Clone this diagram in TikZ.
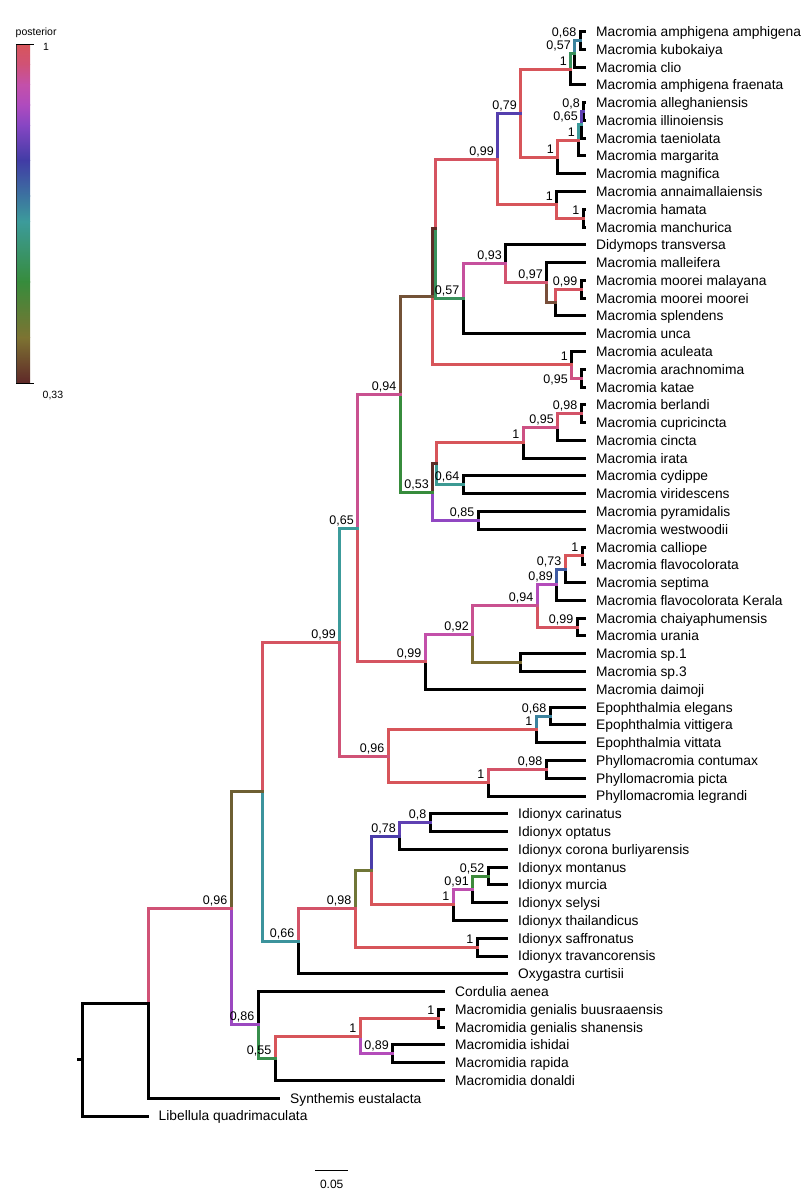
\documentclass[tikz,border=0pt]{standalone}
\usepackage{fontspec}
\setmainfont{Liberation Sans}
\usepackage{tikz}
\usetikzlibrary{positioning}

% branch colours (posterior)
\definecolor{p100}{RGB}{215,85,90}
\definecolor{p99}{RGB}{213,84,97}
\definecolor{p98}{RGB}{211,83,104}
\definecolor{p97}{RGB}{210,83,111}
\definecolor{p96}{RGB}{208,82,118}
\definecolor{p95}{RGB}{205,81,131}
\definecolor{p94}{RGB}{201,81,144}
\definecolor{p93}{RGB}{198,80,157}
\definecolor{p92}{RGB}{195,80,170}
\definecolor{p91}{RGB}{190,79,175}
\definecolor{p89}{RGB}{180,76,186}
\definecolor{p86}{RGB}{155,72,192}
\definecolor{p85}{RGB}{145,71,194}
\definecolor{p80}{RGB}{95,64,178}
\definecolor{p79}{RGB}{85,63,174}
\definecolor{p78}{RGB}{75,61,169}
\definecolor{p73}{RGB}{62,91,162}
\definecolor{p68}{RGB}{60,131,158}
\definecolor{p66}{RGB}{60,147,156}
\definecolor{p65}{RGB}{60,155,155}
\definecolor{p64}{RGB}{60,154,147}
\definecolor{p57}{RGB}{57,145,92}
\definecolor{p55}{RGB}{56,142,76}
\definecolor{p53}{RGB}{55,140,60}
\definecolor{p52}{RGB}{61,138,59}
\definecolor{pOlA}{RGB}{110,95,50}
\definecolor{pOlB}{RGB}{112,118,55}
\definecolor{pOlC}{RGB}{122,108,50}
\definecolor{pBrA}{RGB}{115,82,55}
\definecolor{pBrB}{RGB}{120,78,58}
\definecolor{pBrC}{RGB}{92,45,40}
% legend stops
\definecolor{lgA}{RGB}{175,75,190}
\definecolor{lgB}{RGB}{135,70,195}
\definecolor{lgC}{RGB}{65,60,165}
\definecolor{lgD}{RGB}{60,115,160}
\definecolor{lgE}{RGB}{125,115,50}
\definecolor{lgF}{RGB}{95,40,40}

\begin{document}
\begin{tikzpicture}[x=1pt, y=-1pt,
    br/.style={line width=3pt, line cap=rect},
    tipbr/.style={br, black},
    taxon/.style={inner sep=0pt, text height=9.9pt, text depth=0pt,
      font=\fontsize{13.8}{16}\selectfont},
    pp/.style={anchor=base east, inner sep=0pt, xshift=-3.5pt, yshift=4pt,
      font=\fontsize{12.5}{14}\selectfont},
    legtxt/.style={inner sep=0pt, font=\fontsize{10.5}{12}\selectfont}]
\useasboundingbox (0,0) rectangle (807,1200);

% legend
\foreach \ya/\yb/\ca/\cb in {44/64.5/p100/p96, 64.2/84.8/p96/p92,
    84.5/105/p92/lgA, 104.7/125.3/lgA/lgB, 125/160.7/lgB/lgC,
    160.4/196.1/lgC/lgD, 195.8/221.4/lgD/p65, 221.1/282.1/p65/p53,
    281.8/337.8/p53/lgE, 337.5/383/lgE/lgF}
  \shade[top color=\ca, bottom color=\cb] (16,\ya) rectangle (30,\yb);
\draw[line width=0.6pt, black!80] (16,44) -- (16,383);
\draw[line width=0.8pt] (16,44) -- (33.5,44);
\draw[line width=0.8pt] (16,383) -- (33.5,383);
\node[legtxt, anchor=base west] (legtitle) at (15.5,35.5) {posterior};
\node[legtxt, anchor=base west] (leghi) at (43,50) {1};
\node[legtxt, anchor=base west] (leglo) at (42.5,398.5) {0,33};

% scale bar
\coordinate (sb1) at (315,1170);
\coordinate (sb2) at (348,1170);
\draw[line width=0.8pt] (sb1) -- (sb2);
\node[inner sep=0pt, anchor=base, font=\fontsize{12}{14}\selectfont] (sblab)
  at (331.7,1188.3) {0.05};

\begin{scope}[y=-17.779pt, yshift=-13.721pt]
% internal nodes
\coordinate (a68) at (580,1.5);
\coordinate (a57) at (574.5,2.25);
\coordinate (a1) at (570.5,3.125);
\coordinate (b8) at (583.5,5.5);
\coordinate (b65) at (581.5,6.25);
\coordinate (b1) at (578.5,7.125);
\coordinate (b1b) at (557.5,8.0625);
\coordinate (a79) at (520.5,5.59375);
\coordinate (c1b) at (583,11.5);
\coordinate (c1) at (556.5,10.75);
\coordinate (a99) at (497.5,8.171875);
\coordinate (d99) at (581,15.5);
\coordinate (dBr) at (555.5,16.25);
\coordinate (d97) at (546.5,15.125);
\coordinate (d93) at (505.5,14.0625);
\coordinate (d57) at (463,16.03125);
\coordinate (nK) at (435,12.1015625);
\coordinate (ac95) at (581,20.5);
\coordinate (ac1) at (571.5,19.75);
\coordinate (nI) at (432.5,15.92578);
\coordinate (f98) at (581,22.5);
\coordinate (f95) at (557.5,23.25);
\coordinate (f1) at (523,24.125);
\coordinate (f64) at (463,26.5);
\coordinate (nL) at (436.5,25.3125);
\coordinate (f85) at (478,28.5);
\coordinate (nJ) at (432.5,26.90625);
\coordinate (nG) at (400,21.41602);
\coordinate (g1) at (582,30.5);
\coordinate (g73) at (565,31.25);
\coordinate (g89) at (556.5,32.125);
\coordinate (g99) at (577,34.5);
\coordinate (g94) at (537,33.3125);
\coordinate (gOl) at (520,36.5);
\coordinate (g92) at (472.5,34.90625);
\coordinate (nH) at (425,36.453125);
\coordinate (nE) at (357.5,28.93457);
\coordinate (h68) at (550,39.5);
\coordinate (h1) at (536,40.25);
\coordinate (i98) at (546,42.5);
\coordinate (i1) at (488,43.25);
\coordinate (nF) at (388,41.75);
\coordinate (nC) at (339.5,35.34229);
\coordinate (j8) at (430,45.5);
\coordinate (j78) at (399.5,46.25);
\coordinate (k52) at (488,48.5);
\coordinate (k91) at (472.5,49.25);
\coordinate (k1) at (453,50.125);
\coordinate (jOl) at (371.5,48.1875);
\coordinate (l1) at (477,52.5);
\coordinate (j98) at (355,50.34375);
\coordinate (nD) at (298,52.171875);
\coordinate (nB) at (262.5,43.75708);
\coordinate (m1b) at (438,56.5);
\coordinate (m89) at (392.5,58.5);
\coordinate (m1) at (360,57.5);
\coordinate (m55) at (275,58.75);
\coordinate (m86) at (258,56.875);
\coordinate (nA) at (231,50.31604);
\coordinate (nS) at (148,55.65802);
\coordinate (nR) at (82,58.82901);
\coordinate (r0) at (78,58.82901);

% tips
\foreach \i/\x/\p/\sp in {
  1/584.5/a68/Macromia amphigena amphigena,
  2/584.5/a68/Macromia kubokaiya,
  3/584.5/a57/Macromia clio,
  4/584.5/a1/Macromia amphigena fraenata,
  5/584.5/b8/Macromia alleghaniensis,
  6/584.5/b8/Macromia illinoiensis,
  7/584.5/b65/Macromia taeniolata,
  8/584.5/b1/Macromia margarita,
  9/584.5/b1b/Macromia magnifica,
  10/584.5/c1/Macromia annaimallaiensis,
  11/584.5/c1b/Macromia hamata,
  12/584.5/c1b/Macromia manchurica,
  13/584.5/d93/Didymops transversa,
  14/584.5/d97/Macromia malleifera,
  15/584.5/d99/Macromia moorei malayana,
  16/584.5/d99/Macromia moorei moorei,
  17/584.5/dBr/Macromia splendens,
  18/584.5/d57/Macromia unca,
  19/584.5/ac1/Macromia aculeata,
  20/584.5/ac95/Macromia arachnomima,
  21/584.5/ac95/Macromia katae,
  22/584.5/f98/Macromia berlandi,
  23/584.5/f98/Macromia cupricincta,
  24/584.5/f95/Macromia cincta,
  25/584.5/f1/Macromia irata,
  26/584.5/f64/Macromia cydippe,
  27/584.5/f64/Macromia viridescens,
  28/584.5/f85/Macromia pyramidalis,
  29/584.5/f85/Macromia westwoodii,
  30/584.5/g1/Macromia calliope,
  31/584.5/g1/Macromia flavocolorata,
  32/584.5/g73/Macromia septima,
  33/584.5/g89/Macromia flavocolorata Kerala,
  34/584.5/g99/Macromia chaiyaphumensis,
  35/584.5/g99/Macromia urania,
  36/584.5/gOl/Macromia sp.1,
  37/584.5/gOl/Macromia sp.3,
  38/584.5/nH/Macromia daimoji,
  39/584.5/h68/Epophthalmia elegans,
  40/584.5/h68/Epophthalmia vittigera,
  41/584.5/h1/Epophthalmia vittata,
  42/584.5/i98/Phyllomacromia contumax,
  43/584.5/i98/Phyllomacromia picta,
  44/584.5/i1/Phyllomacromia legrandi,
  45/506.5/j8/Idionyx carinatus,
  46/506.5/j8/Idionyx optatus,
  47/506.5/j78/Idionyx corona burliyarensis,
  48/506.5/k52/Idionyx montanus,
  49/506.5/k52/Idionyx murcia,
  50/506.5/k91/Idionyx selysi,
  51/506.5/k1/Idionyx thailandicus,
  52/506.5/l1/Idionyx saffronatus,
  53/506.5/l1/Idionyx travancorensis,
  54/506.5/nD/Oxygastra curtisii,
  55/443.5/m86/Cordulia aenea,
  56/443.5/m1b/Macromidia genialis buusraaensis,
  57/443.5/m1b/Macromidia genialis shanensis,
  58/443.5/m89/Macromidia ishidai,
  59/443.5/m89/Macromidia rapida,
  60/443.5/m55/Macromidia donaldi,
  61/278.5/nS/Synthemis eustalacta,
  62/147/nR/Libellula quadrimaculata}{
  \coordinate (e\i) at (\x,\i);
  \draw[tipbr] (\p) |- (e\i);
  \node[taxon, right=11.5pt of e\i] (t\i) {\sp};
}

% internal branches, coloured by posterior
\draw[br, p68] (a57) |- (a68);
\draw[br, p57] (a1) |- (a57);
\draw[br, p100] (a79) |- (a1);
\draw[br, p80] (b65) |- (b8);
\draw[br, p65] (b1) |- (b65);
\draw[br, p100] (b1b) |- (b1);
\draw[br, p100] (a79) |- (b1b);
\draw[br, p79] (a99) |- (a79);
\draw[br, p100] (c1) |- (c1b);
\draw[br, p100] (a99) |- (c1);
\draw[br, p99] (nK) |- (a99);
\draw[br, p99] (dBr) |- (d99);
\draw[br, pBrB] (d97) |- (dBr);
\draw[br, p97] (d93) |- (d97);
\draw[br, p93] (d57) |- (d93);
\draw[br, p57] (nK) |- (d57);
\draw[br, p95] (ac1) |- (ac95);
\draw[br, p100] (nI) |- (ac1);
\draw[br, pBrC] (nI) |- (nK);
\draw[br, pBrA] (nG) |- (nI);
\draw[br, p98] (f95) |- (f98);
\draw[br, p95] (f1) |- (f95);
\draw[br, p100] (nL) |- (f1);
\draw[br, p64] (nL) |- (f64);
\draw[br, pBrC] (nJ) |- (nL);
\draw[br, p85] (nJ) |- (f85);
\draw[br, p53] (nG) |- (nJ);
\draw[br, p94] (nE) |- (nG);
\draw[br, p100] (g73) |- (g1);
\draw[br, p73] (g89) |- (g73);
\draw[br, p89] (g94) |- (g89);
\draw[br, p99] (g94) |- (g99);
\draw[br, p94] (g92) |- (g94);
\draw[br, pOlC] (g92) |- (gOl);
\draw[br, p92] (nH) |- (g92);
\draw[br, p99] (nE) |- (nH);
\draw[br, p65] (nC) |- (nE);
\draw[br, p68] (h1) |- (h68);
\draw[br, p100] (nF) |- (h1);
\draw[br, p98] (i1) |- (i98);
\draw[br, p100] (nF) |- (i1);
\draw[br, p96] (nC) |- (nF);
\draw[br, p99] (nB) |- (nC);
\draw[br, p80] (j78) |- (j8);
\draw[br, p78] (jOl) |- (j78);
\draw[br, p52] (k91) |- (k52);
\draw[br, p91] (k1) |- (k91);
\draw[br, p100] (jOl) |- (k1);
\draw[br, pOlB] (j98) |- (jOl);
\draw[br, p100] (j98) |- (l1);
\draw[br, p98] (nD) |- (j98);
\draw[br, p66] (nB) |- (nD);
\draw[br, pOlA] (nA) |- (nB);
\draw[br, p100] (m1) |- (m1b);
\draw[br, p89] (m1) |- (m89);
\draw[br, p100] (m55) |- (m1);
\draw[br, p55] (m86) |- (m55);
\draw[br, p86] (nA) |- (m86);
\draw[br, p96] (nS) |- (nA);
\draw[tipbr] (nR) |- (nS);
\draw[tipbr] (r0) -- (nR);

% posterior values
\foreach \n/\v in {a68/{0,68}, a57/{0,57}, a1/1, b8/{0,8}, b65/{0,65},
    b1/1, b1b/1, a79/{0,79}, c1b/1, c1/1, a99/{0,99}, d99/{0,99},
    d97/{0,97}, d93/{0,93}, d57/{0,57}, ac1/1, f98/{0,98}, f95/{0,95},
    f1/1, f64/{0,64}, f85/{0,85}, nJ/{0,53}, nG/{0,94}, g1/1,
    g73/{0,73}, g89/{0,89}, g99/{0,99}, g94/{0,94}, g92/{0,92},
    nH/{0,99}, nE/{0,65}, h68/{0,68}, h1/1, i98/{0,98}, i1/1,
    nF/{0,96}, nC/{0,99}, j8/{0,8}, j78/{0,78}, k52/{0,52},
    k91/{0,91}, k1/1, l1/1, j98/{0,98}, nD/{0,66}, m1b/1,
    m89/{0,89}, m1/1, m55/{0,55}, m86/{0,86}, nA/{0,96}}
  \node[pp] (l-\n) at (\n) {\v};
\node[pp] (l-ac95) at (571.5,21) {0,95};
\end{scope}
\end{tikzpicture}
\end{document}
